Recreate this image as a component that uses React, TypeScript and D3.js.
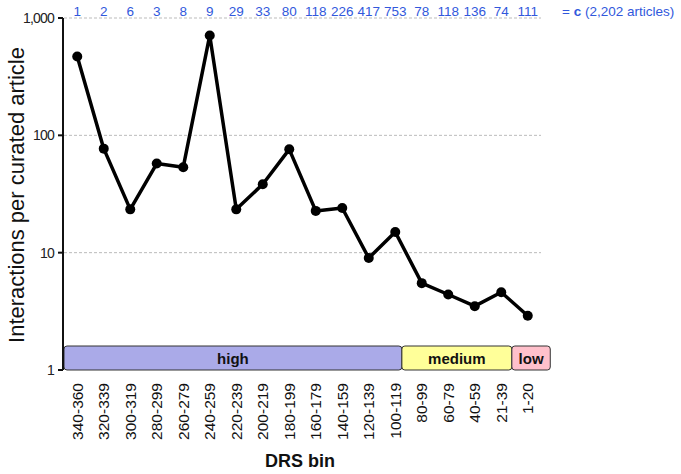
import React from "react";
import * as d3 from "d3";

const categories = [
  "340-360", "320-339", "300-319", "280-299", "260-279", "240-259",
  "220-239", "200-219", "180-199", "160-179", "140-159", "120-139",
  "100-119", "80-99", "60-79", "40-59", "21-39", "1-20",
];
const interactions = [
  470, 77, 23.4, 57.5, 53.5, 710, 23.4, 38.3, 76, 22.7, 24.0, 9.0,
  15.0, 5.5, 4.4, 3.5, 4.6, 2.9,
];
const articleCounts = [
  "1", "2", "6", "3", "8", "9", "29", "33", "80", "118", "226", "417",
  "753", "78", "118", "136", "74", "111",
];
const yTicks = [1, 10, 100, 1000];
const bands = [
  { label: "high", from: 0, to: 12.75, fill: "#aaaae8" },
  { label: "medium", from: 12.75, to: 16.9, fill: "#ffff99" },
  { label: "low", from: 16.9, to: 18.35, fill: "#ffc0cb" },
];

const W = 681;
const H = 474;
const left = 64;
const right = 541;
const top = 18;
const bottom = 370;

export default function App() {
  const x = d3.scaleBand<string>().domain(categories).range([left, right]).padding(0);
  const y = d3.scaleLog().domain([1, 1000]).range([bottom, top]);
  const cx = (c: string) => (x(c) as number) + x.bandwidth() / 2;
  const step = x.step();
  const line = d3
    .line<number>()
    .x((_, i) => cx(categories[i]))
    .y((d) => y(d));
  const font = "'Liberation Sans', Arial, sans-serif";
  const blue = "#3158dc";

  return (
    <svg
      width={W}
      height={H}
      style={{ position: "absolute", left: 0, top: 0, background: "#fff" }}
      fontFamily={font}
    >
      {/* gridlines */}
      {yTicks.filter((t) => t > 1).map((t) => (
        <line
          key={t}
          x1={left}
          x2={right}
          y1={y(t)}
          y2={y(t)}
          stroke="#bbbbbb"
          strokeWidth={1}
          strokeDasharray="3,2"
        />
      ))}
      {/* category bands */}
      {bands.map((b) => {
        const x0 = left + b.from * step;
        const x1 = left + b.to * step;
        return (
          <g key={b.label}>
            <rect
              x={x0}
              y={346}
              width={x1 - x0}
              height={bottom - 346}
              rx={3}
              fill={b.fill}
              stroke="#333"
              strokeWidth={1}
            />
            <text
              x={(x0 + x1) / 2}
              y={358}
              textAnchor="middle"
              dominantBaseline="central"
              fontSize={15}
              fontWeight="bold"
              fill="#111"
            >
              {b.label}
            </text>
          </g>
        );
      })}
      {/* y axis */}
      <line x1={left - 1} x2={left - 1} y1={top} y2={bottom} stroke="#111" strokeWidth={2} />
      {yTicks.map((t) => (
        <g key={t}>
          <line x1={left - 6} x2={left - 1} y1={y(t)} y2={y(t)} stroke="#111" strokeWidth={2} />
          <text
            x={left - 10}
            y={y(t)}
            textAnchor="end"
            dominantBaseline="central"
            fontSize={14}
            letterSpacing={-0.8}
            fill="#222"
          >
            {d3.format(",")(t)}
          </text>
        </g>
      ))}
      <text
        transform={`translate(24, 195) rotate(-90)`}
        textAnchor="middle"
        fontSize={22}
        fill="#111"
      >
        Interactions per curated article
      </text>
      {/* x labels */}
      {categories.map((c) => (
        <text
          key={c}
          transform={`translate(${cx(c)}, 383) rotate(-90)`}
          textAnchor="end"
          dominantBaseline="central"
          fontSize={15.5}
          fill="#111"
        >
          {c}
        </text>
      ))}
      <text x={300} y={467} textAnchor="middle" fontSize={18} fontWeight="bold" fill="#111">
        DRS bin
      </text>
      {/* top counts */}
      {categories.map((c, i) => (
        <text key={c} x={cx(c)} y={16} textAnchor="middle" fontSize={13.5} fill={blue}>
          {articleCounts[i]}
        </text>
      ))}
      <text x={562} y={16} fontSize={13.5} fill={blue}>
        = <tspan fontWeight="bold">c</tspan> (2,202 articles)
      </text>
      {/* line */}
      <path d={line(interactions) ?? ""} fill="none" stroke="#000" strokeWidth={3.5} strokeLinejoin="round" />
      {interactions.map((v, i) => (
        <circle key={i} cx={cx(categories[i])} cy={y(v)} r={5} fill="#000" />
      ))}
    </svg>
  );
}
